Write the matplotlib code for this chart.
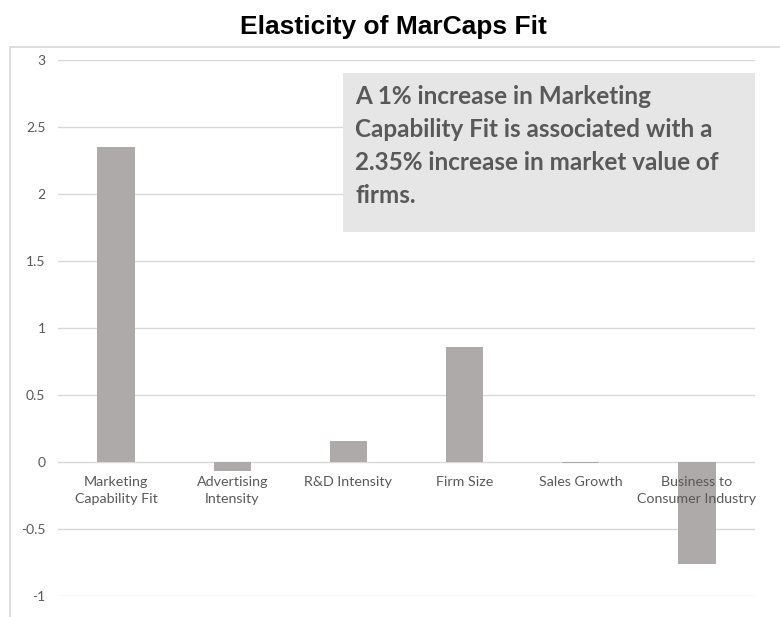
import matplotlib.pyplot as plt
from matplotlib.patches import Rectangle
from matplotlib.transforms import offset_copy

categories = ["Marketing\nCapability Fit", "Advertising\nIntensity", "R&D Intensity",
              "Firm Size", "Sales Growth", "Business to\nConsumer Industry"]
elasticity = [2.35, -0.07, 0.16, 0.86, -0.01, -0.76]
y_ticks = [-1, -0.5, 0, 0.5, 1, 1.5, 2, 2.5, 3]
y_tick_labels = ["-1", "-0.5", "0", "0.5", "1", "1.5", "2", "2.5", "3"]
note = ("A 1% increase in Marketing\nCapability Fit is associated with a\n"
        "2.35% increase in market value of\nfirms.")

text_gray = "#595959"
bar_gray = "#AEAAAA"
grid_gray = "#D9D9D9"

fig = plt.figure(figsize=(7.8, 6.17), dpi=100)

# chart frame
fig.patches.append(Rectangle((10 / 780, -0.05), 1.0, 1 - 47 / 617 + 0.05,
                             transform=fig.transFigure, fill=False,
                             edgecolor="#D9D9D9", linewidth=1.2))

fig.text(393 / 780, 1 - 27 / 617, "Elasticity of MarCaps Fit", ha="center", va="center",
         fontsize=19, fontweight="bold", family="Liberation Sans", color="black")

ax = fig.add_axes([58 / 780, 1 - 596 / 617, (755 - 58) / 780, (596 - 60) / 617])
x = list(range(len(categories)))
ax.bar(x, elasticity, width=0.32, color=bar_gray, zorder=3)
ax.set_xlim(-0.5, len(categories) - 0.5)
ax.set_ylim(-1, 3)
ax.set_yticks(y_ticks)
ax.set_yticklabels(y_tick_labels, family="Lato", fontsize=10, color=text_gray)
ax.set_xticks([])
ax.tick_params(axis="y", length=0, pad=9)
ax.grid(axis="y", color=grid_gray, linewidth=1, zorder=0)
for side in ax.spines.values():
    side.set_visible(False)

# category names sit just under the zero line
label_tf = offset_copy(ax.transData, fig=fig, y=-10, units="points")
for i, name in enumerate(categories):
    ax.text(i, 0, name, transform=label_tf, ha="center", va="top", fontsize=10.3,
            family="Lato", color=text_gray, linespacing=1.55, zorder=4)

# callout box
ax.add_patch(Rectangle((343 / 780, 1 - 232 / 617), (755 - 343) / 780, (232 - 73) / 617,
                       transform=fig.transFigure, facecolor="#E7E6E6", edgecolor="none",
                       zorder=5))
fig.text(355 / 780, 1 - 85 / 617, note, ha="left", va="top", fontsize=17.5,
         fontweight="bold", family="Lato", color=text_gray, linespacing=1.52, zorder=6)

fig.savefig("out.png", dpi=100)
